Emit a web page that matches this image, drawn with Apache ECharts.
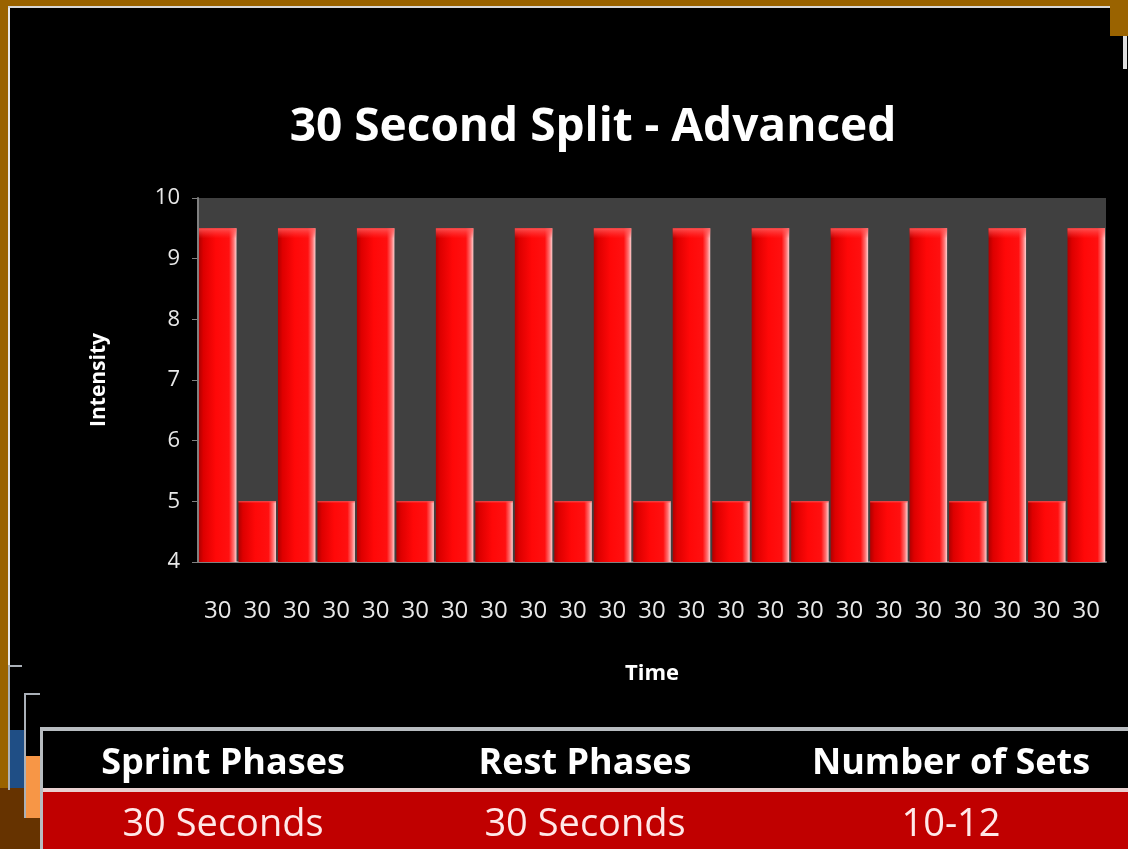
<!DOCTYPE html>
<html><head><meta charset="utf-8">
<script src="https://cdn.jsdelivr.net/npm/echarts@6/dist/echarts.min.js"></script>
<style>html,body{margin:0;padding:0;background:#000}#c{width:1128px;height:849px}</style>
</head><body><div id="c"></div>
<script>
const categories = ['30','30','30','30','30','30','30','30','30','30','30','30','30','30','30','30','30','30','30','30','30','30','30'];
const intensity = [9.5,5,9.5,5,9.5,5,9.5,5,9.5,5,9.5,5,9.5,5,9.5,5,9.5,5,9.5,5,9.5,5,9.5];
const yTicks = [4,5,6,7,8,9,10];
const tableHeaders = ['Sprint Phases','Rest Phases','Number of Sets'];
const tableValues = ['30 Seconds','30 Seconds','10-12'];
const tableX = [223, 585, 951];

const chart = echarts.init(document.getElementById('c'));
const FONT = '"Open Sans", sans-serif';
const gold = '#9a6300';
const graphics = [
  {type:'rect', shape:{x:0,y:0,width:1128,height:6}, style:{fill:gold}},
  {type:'rect', shape:{x:0,y:6,width:1110,height:2}, style:{fill:'#d8d8d8'}},
  {type:'rect', shape:{x:0,y:0,width:8,height:790}, style:{fill:gold}},
  {type:'rect', shape:{x:8,y:8,width:2,height:657}, style:{fill:'#e8e8e8'}},
  {type:'rect', shape:{x:1110,y:0,width:18,height:36}, style:{fill:gold}},
  {type:'rect', shape:{x:1123,y:36,width:4,height:33}, style:{fill:'#e0e0e0'}},
  {type:'rect', shape:{x:0,y:788,width:40,height:61}, style:{fill:'#663300'}},
  {type:'rect', shape:{x:8,y:665,width:14,height:2}, style:{fill:'#aab0b8'}},
  {type:'rect', shape:{x:8,y:665,width:2,height:125}, style:{fill:'#aab0b8'}},
  {type:'rect', shape:{x:10,y:730,width:14,height:58}, style:{fill:'#1f4e85'}},
  {type:'rect', shape:{x:24,y:693,width:16,height:2}, style:{fill:'#aab0b8'}},
  {type:'rect', shape:{x:24,y:693,width:2,height:125}, style:{fill:'#aab0b8'}},
  {type:'rect', shape:{x:26,y:756,width:14,height:62}, style:{fill:'#f79646'}},
  {type:'rect', shape:{x:40,y:727,width:1088,height:122}, style:{fill:'#b8bcc0'}},
  {type:'rect', shape:{x:43,y:731,width:1085,height:57}, style:{fill:'#000'}},
  {type:'rect', shape:{x:43,y:788,width:1085,height:4}, style:{fill:'#e8d0d0'}},
  {type:'rect', shape:{x:43,y:792,width:1085,height:57}, style:{fill:'#c00000'}}
];
tableHeaders.forEach((t,i)=>graphics.push({type:'text', x:tableX[i], y:764, style:{text:t, fill:'#fff', font:'bold 36px '+FONT, textAlign:'center', textVerticalAlign:'middle'}}));
tableValues.forEach((t,i)=>graphics.push({type:'text', x:tableX[i], y:825, style:{text:t, fill:'#ffe8e8', font:'38px '+FONT, textAlign:'center', textVerticalAlign:'middle'}}));

chart.setOption({
  backgroundColor:'#000',
  animation:false,
  title:{text:'30 Second Split - Advanced', left:588, textAlign:'center', top:100,
    textStyle:{color:'#fff', fontSize:46, fontWeight:'bold', fontFamily:FONT}},
  grid:{left:198, right:22, top:198, bottom:287, show:true, backgroundColor:'#404040', borderWidth:0},
  xAxis:{type:'category', data:categories,
    name:'Time', nameLocation:'middle', nameGap:101,
    nameTextStyle:{color:'#fff', fontSize:22, fontWeight:'bold', fontFamily:FONT},
    axisLine:{lineStyle:{color:'#808080', width:2}}, axisTick:{show:false},
    axisLabel:{color:'#e8e8e8', fontSize:24, margin:37, fontFamily:FONT, interval:0}},
  yAxis:{type:'value', min:yTicks[0], max:yTicks[yTicks.length-1], interval:1,
    name:'Intensity', nameLocation:'middle', nameGap:88, nameRotate:90,
    nameTextStyle:{color:'#fff', fontSize:21, fontWeight:'bold', fontFamily:FONT},
    axisLine:{show:true, lineStyle:{color:'#808080', width:2}},
    axisTick:{show:true, length:6, lineStyle:{color:'#808080'}},
    splitLine:{show:false},
    axisLabel:{color:'#e8e8e8', fontSize:22, margin:18, fontFamily:FONT}},
  series:[{type:'bar', data:intensity, barCategoryGap:'5%',
    itemStyle:{color:new echarts.graphic.LinearGradient(0,0,1,0,[
      {offset:0,color:'#b00000'},{offset:0.12,color:'#dd0000'},{offset:0.45,color:'#ff0808'},
      {offset:0.8,color:'#ff1010'},{offset:0.92,color:'#ff7070'},{offset:1,color:'#ffd0d0'}])}},
    {type:'bar', data:intensity, barCategoryGap:'5%', barGap:'-100%', silent:true,
    itemStyle:{color:new echarts.graphic.LinearGradient(0,0,0,1,[
      {offset:0,color:'rgba(255,90,90,0.9)'},{offset:0.03,color:'rgba(255,60,60,0.0)'},
      {offset:1,color:'rgba(255,60,60,0)'}])}}],
  graphic:graphics
});
</script></body></html>
